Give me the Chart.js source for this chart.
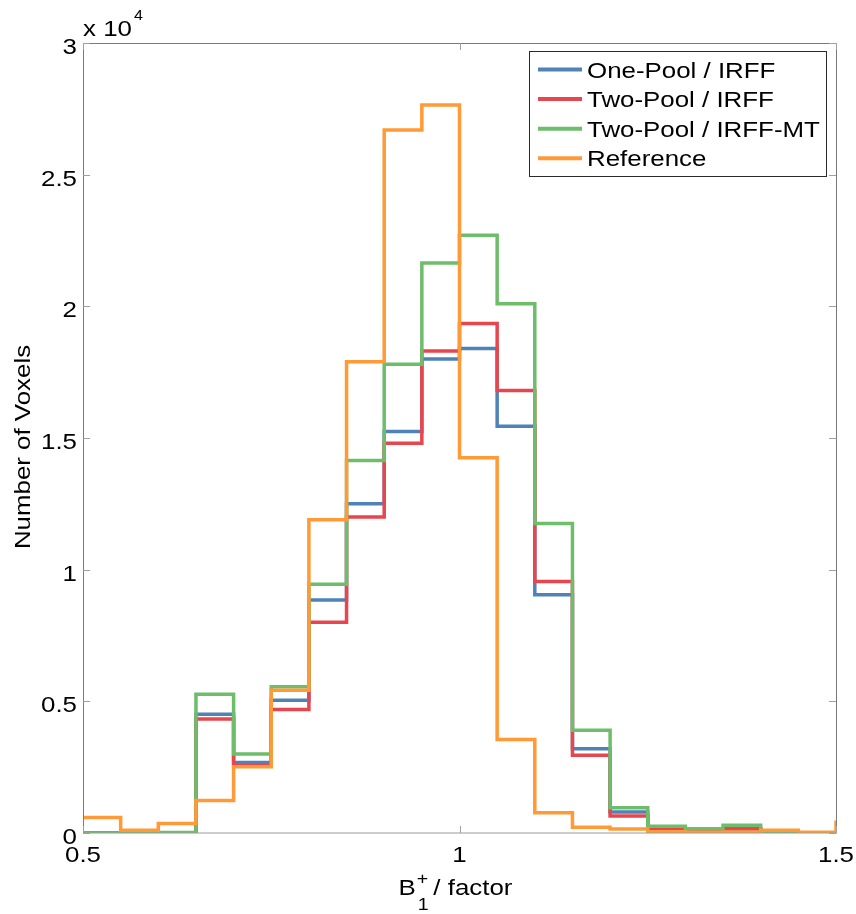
<!DOCTYPE html>
<html>
<head>
<meta charset="utf-8">
<script src="https://cdn.jsdelivr.net/npm/chart.js@4.4.0/dist/chart.umd.min.js"></script>
<style>
  html, body { margin: 0; padding: 0; background: #fff; }
  #histChart { display: block; }
</style>
</head>
<body>
<canvas id="histChart" width="856" height="914"></canvas>
<script>
// bin start edges (last entry closes the final bin)
const binEdges = [0.5, 0.55, 0.6, 0.65, 0.7, 0.75, 0.8, 0.85, 0.9, 0.95, 1.0,
                  1.05, 1.1, 1.15, 1.2, 1.25, 1.3, 1.35, 1.4, 1.45, 1.5];

// voxel counts per bin
const onePoolIrff   = [0, 10, 10, 4510, 2680, 5040, 8850, 12500, 15250, 18000, 18400,
                       15450, 9050, 3200, 800, 150, 100, 150, 20, 10, 0];
const twoPoolIrff   = [0, 10, 10, 4330, 2560, 4690, 8000, 12000, 14800, 18300, 19350,
                       16800, 9550, 2950, 650, 120, 100, 160, 20, 10, 0];
const twoPoolIrffMt = [0, 20, 20, 5270, 3000, 5550, 9450, 14150, 17800, 21650, 22700,
                       20100, 11750, 3900, 960, 260, 160, 290, 20, 10, 0];
const referenceB1   = [590, 100, 360, 1230, 2520, 5420, 11900, 17900, 26700, 27650, 14250,
                       3550, 770, 215, 150, 50, 30, 40, 100, 30, 470];

const seriesNames = ['One-Pool / IRFF', 'Two-Pool / IRFF', 'Two-Pool / IRFF-MT', 'Reference'];
const xTicks = [0.5, 1, 1.5];
const yTicks = [0, 5000, 10000, 15000, 20000, 25000, 30000];
const yTickLabels = ['0', '0.5', '1', '1.5', '2', '2.5', '3'];

const FONT = '"Liberation Sans", Arial, Helvetica, sans-serif';
const STRETCH = 1.15;

function toPoints(values) {
  return binEdges.map((x, i) => ({ x: x, y: values[i] }));
}

// text is a bit wider than plain Arial, so squeeze it out horizontally
function wideText(ctx, text, x, y, size, align) {
  ctx.save();
  ctx.font = size + 'px ' + FONT;
  ctx.translate(x, y);
  ctx.scale(STRETCH, 1);
  ctx.textAlign = align || 'left';
  ctx.textBaseline = 'alphabetic';
  ctx.fillText(text, 0, 0);
  ctx.restore();
}

function textWidth(ctx, text, size) {
  ctx.save();
  ctx.font = size + 'px ' + FONT;
  const w = ctx.measureText(text).width * STRETCH;
  ctx.restore();
  return w;
}

const axesDecor = {
  id: 'axesDecor',
  afterDraw(chart) {
    const ctx = chart.ctx;
    const a = chart.chartArea;
    const xs = chart.scales.x, ys = chart.scales.y;
    const tickLen = 7;

    ctx.save();
    // box around the axes
    ctx.lineWidth = 1;
    ctx.strokeStyle = '#7a7a7a';
    ctx.beginPath();
    ctx.moveTo(Math.round(a.left) + 0.5, a.bottom);
    ctx.lineTo(Math.round(a.left) + 0.5, Math.round(a.top) + 0.5);
    ctx.lineTo(Math.round(a.right) + 0.5, Math.round(a.top) + 0.5);
    ctx.lineTo(Math.round(a.right) + 0.5, a.bottom);
    ctx.stroke();
    ctx.strokeStyle = '#9a9a9a';
    ctx.beginPath();
    ctx.moveTo(a.left, a.bottom);
    ctx.lineTo(a.right + 1, a.bottom);
    ctx.stroke();

    // inward ticks on all four sides
    ctx.strokeStyle = '#a0a0a0';
    ctx.beginPath();
    ys.ticks.forEach(t => {
      const py = Math.round(ys.getPixelForValue(t.value)) + 0.5;
      ctx.moveTo(a.left, py); ctx.lineTo(a.left + tickLen, py);
      ctx.moveTo(a.right, py); ctx.lineTo(a.right - tickLen, py);
    });
    xs.ticks.forEach(t => {
      const px = Math.round(xs.getPixelForValue(t.value)) + 0.5;
      ctx.moveTo(px, a.bottom); ctx.lineTo(px, a.bottom - tickLen);
      ctx.moveTo(px, a.top); ctx.lineTo(px, a.top + tickLen);
    });
    ctx.stroke();

    // tick labels
    ctx.fillStyle = '#000';
    ys.ticks.forEach((t, i) => {
      wideText(ctx, yTickLabels[i], a.left - 6, ys.getPixelForValue(t.value) + 11, 22.5, 'right');
    });
    xs.ticks.forEach(t => {
      wideText(ctx, String(t.value), xs.getPixelForValue(t.value), a.bottom + 29, 22.5, 'center');
    });

    // exponent above the y axis
    wideText(ctx, 'x 10', a.left, a.top - 7, 22.5, 'left');
    wideText(ctx, '4', a.left + textWidth(ctx, 'x 10', 22.5) + 2, a.top - 23, 14, 'left');

    // y axis title
    ctx.save();
    ctx.translate(30, (a.top + a.bottom) / 2 + 9);
    ctx.rotate(-Math.PI / 2);
    wideText(ctx, 'Number of Voxels', 0, 0, 22.5, 'center');
    ctx.restore();

    // x axis title: B with stacked super/subscript
    const cx = xs.getPixelForValue(1);
    const bx = cx - 61;
    const base = a.bottom + 62;
    wideText(ctx, 'B', bx, base, 22.5, 'left');
    const sx = bx + textWidth(ctx, 'B', 22.5) + 1;
    wideText(ctx, '+', sx, base - 11, 17, 'left');
    wideText(ctx, '1', sx + 1, base + 15, 17, 'left');
    wideText(ctx, ' / factor', sx + textWidth(ctx, '+', 17) - 2, base, 22.5, 'left');

    // legend box in the upper right corner
    const lx = 529.5, ly = 51.5, lw = 297, lh = 125;
    ctx.fillStyle = '#fff';
    ctx.fillRect(lx, ly, lw, lh);
    ctx.strokeStyle = '#2a2a2a';
    ctx.lineWidth = 1;
    ctx.strokeRect(lx, ly, lw, lh);
    chart.data.datasets.forEach((ds, i) => {
      const ry = 69.5 + i * 29.6;
      ctx.strokeStyle = ds.borderColor;
      ctx.lineWidth = 4;
      ctx.beginPath();
      ctx.moveTo(538, ry);
      ctx.lineTo(582, ry);
      ctx.stroke();
      ctx.fillStyle = '#000';
      wideText(ctx, ds.label, 587, ry + 8, 22.5, 'left');
    });
    ctx.restore();
  }
};

const seriesValues = [onePoolIrff, twoPoolIrff, twoPoolIrffMt, referenceB1];
const seriesColors = ['#4f82b6', '#e8464e', '#6dbd6b', '#ff9a36'];

new Chart(document.getElementById('histChart'), {
  type: 'line',
  data: {
    datasets: seriesValues.map((vals, i) => ({
      label: seriesNames[i],
      data: toPoints(vals),
      borderColor: seriesColors[i],
      backgroundColor: seriesColors[i],
      borderWidth: 3.5,
      stepped: true,
      pointRadius: 0,
      fill: false,
      order: seriesValues.length - i   // later series sit on top
    }))
  },
  options: {
    responsive: false,
    animation: false,
    devicePixelRatio: 1,
    layout: { padding: { top: 43, right: 20, left: 0, bottom: 0 } },
    plugins: { legend: { display: false }, tooltip: { enabled: false } },
    scales: {
      x: {
        type: 'linear',
        min: 0.5, max: 1.5,
        grid: { display: false },
        border: { display: false },
        ticks: { display: false },
        afterBuildTicks: s => { s.ticks = xTicks.map(v => ({ value: v })); },
        afterFit: s => { s.height = 81; }
      },
      y: {
        min: 0, max: 30000,
        grid: { display: false },
        border: { display: false },
        ticks: { display: false },
        afterBuildTicks: s => { s.ticks = yTicks.map(v => ({ value: v })); },
        afterFit: s => { s.width = 83; }
      }
    }
  },
  plugins: [axesDecor]
});
</script>
</body>
</html>
